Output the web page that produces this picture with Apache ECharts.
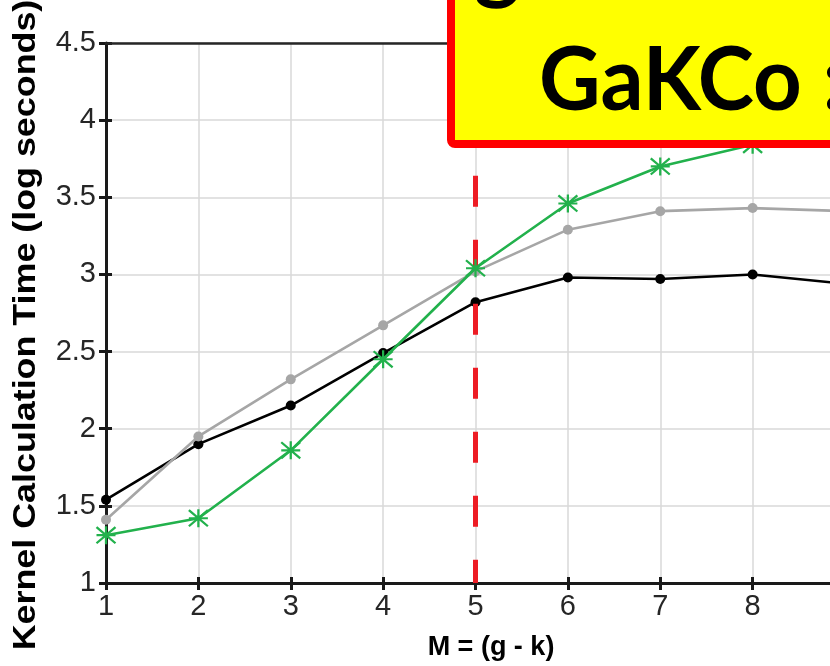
<!DOCTYPE html>
<html>
<head>
<meta charset="utf-8">
<script src="https://cdn.jsdelivr.net/npm/echarts@6/dist/echarts.min.js"></script>
<style>
  html, body { margin: 0; padding: 0; background: #ffffff; }
  #chart { width: 830px; height: 666px; }
</style>
</head>
<body>
<div id="chart"></div>
<script>
// M = (g - k) values on the x axis
const mValues = [1, 2, 3, 4, 5, 6, 7, 8, 9];
// Kernel calculation time (log seconds) per method
const blackTimes = [1.54, 1.90, 2.15, 2.49, 2.82, 2.98, 2.97, 3.00, 2.94];
const grayTimes  = [1.41, 1.95, 2.32, 2.67, 3.02, 3.29, 3.41, 3.43, 3.41];
const greenTimes = [1.31, 1.42, 1.86, 2.45, 3.04, 3.46, 3.70, 3.84];
// vertical marker at M = 5
const markerM = 5;
const markerTop = 3.64;

const yMin = 1, yMax = 4.5, yStep = 0.5;
const xMin = 1, xMax = 9, xStep = 1;

const pairs = arr => arr.map((v, i) => [mValues[i], v]);

const tickFont = { fontFamily: 'Liberation Sans', fontSize: 29, color: '#262626' };
const gridLine = { show: true, lineStyle: { color: '#d9d9d9', width: 1.5 } };
const axisLine = { show: true, lineStyle: { color: '#1a1a1a', width: 3 } };

const chart = echarts.init(document.getElementById('chart'), null, { renderer: 'canvas' });

chart.setOption({
  backgroundColor: '#ffffff',
  animation: false,
  // the plot area runs on past the right edge of the page
  grid: { left: 106, top: 43, width: 739, height: 540, containLabel: false, outerBoundsMode: 'none' },
  xAxis: [
    {
      type: 'value', min: xMin, max: xMax, interval: xStep,
      axisLine: axisLine,
      axisTick: { show: true, length: 7, lineStyle: { color: '#1a1a1a', width: 3 } },
      axisLabel: Object.assign({ margin: 9 }, tickFont),
      splitLine: gridLine,
      name: 'M = (g - k)', nameLocation: 'middle', nameGap: 51,
      nameTextStyle: { fontFamily: 'Liberation Sans', fontWeight: 'bold', fontSize: 27, color: '#000', padding: [0, 0, 0, 31] }
    },
    {
      type: 'value', min: xMin, max: xMax, interval: xStep, position: 'bottom',
      axisLine: { show: false },
      axisTick: { show: true, inside: true, length: 6, lineStyle: { color: '#1a1a1a', width: 3 } },
      axisLabel: { show: false }, splitLine: { show: false }
    },
    {
      // top frame line of the plot box
      type: 'value', min: xMin, max: xMax, position: 'top', z: 6,
      axisLine: { show: true, lineStyle: { color: '#262626', width: 2.5 } },
      axisTick: { show: false }, axisLabel: { show: false }, splitLine: { show: false }
    }
  ],
  yAxis: [
    {
      type: 'value', min: yMin, max: yMax, interval: yStep,
      axisLine: axisLine,
      axisTick: { show: true, length: 7, lineStyle: { color: '#1a1a1a', width: 3 } },
      axisLabel: Object.assign({ margin: 10 }, tickFont),
      splitLine: gridLine
    },
    {
      type: 'value', min: yMin, max: yMax, interval: yStep, position: 'left',
      axisLine: { show: false },
      axisTick: { show: true, inside: true, length: 6, lineStyle: { color: '#1a1a1a', width: 3 } },
      axisLabel: { show: false }, splitLine: { show: false }
    }
  ],
  series: [
    {
      name: 'black', type: 'line', data: pairs(blackTimes),
      symbol: 'circle', symbolSize: 10,
      itemStyle: { color: '#000000' },
      lineStyle: { color: '#000000', width: 2.6 },
      z: 3
    },
    {
      name: 'gray', type: 'line', data: pairs(grayTimes),
      symbol: 'circle', symbolSize: 10,
      itemStyle: { color: '#a6a6a6' },
      lineStyle: { color: '#a6a6a6', width: 2.6 },
      z: 4,
      markLine: {
        silent: true, symbol: ['none', 'none'],
        label: { show: false },
        lineStyle: { color: '#ed1c24', width: 5, type: [31, 33] },
        data: [[{ coord: [markerM, markerTop] }, { coord: [markerM, yMin] }]]
      }
    },
    {
      name: 'green', type: 'line', data: pairs(greenTimes),
      symbol: 'path://M0,0L20,17M0,17L20,0M10,-1L10,18M0,8.5L20,8.5',
      symbolSize: [19, 18],
      itemStyle: { color: 'rgba(0,0,0,0)', borderColor: '#22b14c', borderWidth: 2.2 },
      lineStyle: { color: '#22b14c', width: 2.6 },
      z: 5
    }
  ],
  graphic: [
    {
      type: 'text', z: 50,
      x: 26, y: 325, rotation: Math.PI / 2, scaleX: 1.12,
      style: {
        text: 'Kernel Calculation Time (log seconds)',
        fontFamily: 'Liberation Sans', fontWeight: 'bold', fontSize: 32,
        fill: '#000', align: 'center', verticalAlign: 'middle'
      }
    },
    {
      type: 'rect', z: 100,
      shape: { x: 451, y: -20, width: 420, height: 164, r: 4 },
      style: { fill: '#ffff00', stroke: '#ff0000', lineWidth: 8 }
    },
    {
      type: 'text', z: 101,
      x: 474, y: -80,
      style: { text: 'g', fontFamily: 'Lato', fontWeight: 'bold', fontSize: 88, fill: '#000', verticalAlign: 'top' }
    },
    {
      type: 'text', z: 101,
      x: 539, y: 38, scaleX: 0.965,
      style: { text: 'GaKCo :', fontFamily: 'Lato', fontWeight: 'bold', fontSize: 88, fill: '#000', verticalAlign: 'top' }
    }
  ]
});
</script>
</body>
</html>
